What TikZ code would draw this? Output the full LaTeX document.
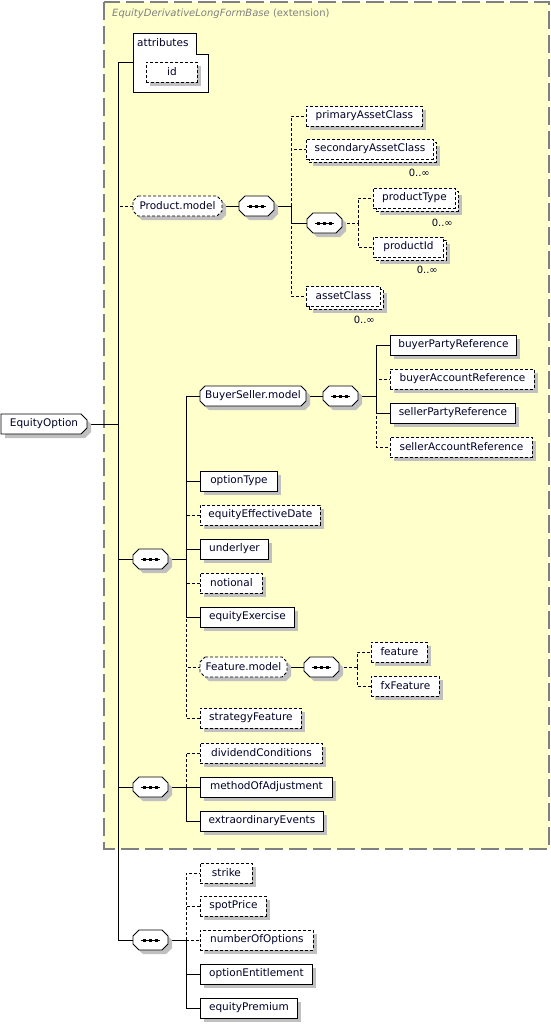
\documentclass[tikz,border=0pt]{standalone}
\usepackage{fontspec}
\setmainfont{DejaVu Sans}
\usetikzlibrary{calc,shadows}
\definecolor{extfill}{RGB}{255,255,204}
\definecolor{extline}{RGB}{128,128,128}
\definecolor{txt}{RGB}{0,0,40}
\definecolor{shadowgray}{RGB}{192,192,192}
\pgfdeclarelayer{bgzero}
\pgfdeclarelayer{bgone}
\pgfsetlayers{bgzero,bgone,main}
\tikzset{
  shd/.style={drop shadow={shadow xshift=4pt,shadow yshift=-4pt,fill=shadowgray,opacity=1}},
  lbl/.style={inner sep=0pt, text=txt, font=\fontsize{10.5}{12}\selectfont},
  elemns/.style={lbl, draw=black, line width=0.9pt, fill=white, minimum height=20pt, anchor=west},
  elem/.style={elemns, shd},
  optelemns/.style={elemns, dash pattern=on 3pt off 2pt},
  optelem/.style={elem, dash pattern=on 3pt off 2pt},
  conn/.style={line width=0.9pt},
  optconn/.style={conn, dash pattern=on 3pt off 2pt},
  card/.style={inner sep=0pt, anchor=east, text=txt, font=\fontsize{10}{12}\selectfont},
}
% group shape: name, x1, x2, yc, style, text
\newcommand{\grp}[6]{%
  \draw[#5, fill=white, shd] (#2+5,-#4+10) -- (#3-5,-#4+10) -- (#3,-#4+5) -- (#3,-#4-5) -- (#3-5,-#4-10) -- (#2+5,-#4-10) -- (#2,-#4-5) -- (#2,-#4+5) -- cycle;
  \node[lbl, minimum width={(#3-#2)*1pt}, minimum height=20pt] (#1) at ({(#2+#3)/2},-#4) {#6};}
% sequence symbol: name, x1, yc
\newcommand{\seqsym}[3]{%
  \draw[conn, fill=white, shd] (#2+6,-#3+10) -- (#2+29,-#3+10) -- (#2+35,-#3+4) -- (#2+35,-#3-4) -- (#2+29,-#3-10) -- (#2+6,-#3-10) -- (#2,-#3-4) -- (#2,-#3+4) -- cycle;
  \node[inner sep=0pt, minimum width=35pt, minimum height=20pt] (#1) at (#2+17.5,-#3) {};
  \draw[conn] (#2+8,-#3) -- (#2+27,-#3);
  \foreach \dx in {-6,0,6} {\fill (#2+16+\dx,-#3-1.5) rectangle ++(3,3);}}
% multiple optional element: name, x1, yc, width, text
\newcommand{\multi}[5]{%
  \node[optelem, minimum width=#4pt] (#1back) at (#2+3,-#3-3) {};
  \node[optelemns, minimum width=#4pt] (#1) at (#2,-#3) {#5};}

\begin{document}
\begin{tikzpicture}[x=1pt,y=1pt]
\useasboundingbox (0,0) rectangle (551,-1025);

\begin{pgfonlayer}{bgzero}
\fill[white] (0,0) rectangle (551,-1025);
\draw[extline, fill=extfill, line width=1.5pt, dash pattern=on 18pt off 6pt] (104,-2) rectangle (549,-849);
\end{pgfonlayer}
\node[anchor=west, inner sep=0pt, text=extline, font=\fontsize{10}{12}\selectfont] (title) at (112,-14) {\textit{EquityDerivativeLongFormBase} (extension)};

% root
\draw[conn, fill=white, shd] (1,-414) -- (81,-414) -- (87,-420) -- (87,-428) -- (81,-434) -- (1,-434) -- cycle;
\node[lbl, minimum width=86pt, minimum height=20pt] (eo) at (44,-424) {EquityOption};

% attributes
\draw[conn, fill=white] (133,-33) -- (196,-33) -- (196,-54) -- (208,-54) -- (208,-92) -- (133,-92) -- cycle;
\node[inner sep=0pt, minimum width=75pt, minimum height=59pt, anchor=north west] (attr) at (133,-33) {};
\node[lbl, anchor=west] (attrlbl) at (137,-43) {attributes};
\node[optelem, minimum width=51pt] (id) at (146,-72) {id};

% Product.model
\grp{pm}{133}{222}{206}{optconn}{Product.model}
\seqsym{sp}{239}{206}
\node[optelem, minimum width=116pt] (pac) at (306,-116) {primaryAssetClass};
\multi{sac}{306}{149}{127}{secondaryAssetClass}
\node[card] (sacc) at (430,-173) {0..∞};
\seqsym{sq}{307}{223}
\multi{pt}{373}{198}{82}{productType}
\node[card] (ptc) at (453,-223) {0..∞};
\multi{pid}{373}{247}{70}{productId}
\node[card] (pidc) at (438,-270) {0..∞};
\multi{ac}{306}{296}{74}{assetClass}
\node[card] (acc) at (375,-320) {0..∞};

% sequence 1
\seqsym{s1}{133}{559}
\grp{bs}{200}{306}{396}{conn}{BuyerSeller.model}
\seqsym{sb}{323}{396}
\node[elem, minimum width=126pt] (bpr) at (390,-345) {buyerPartyReference};
\node[optelem, minimum width=144pt] (bar) at (390,-379) {buyerAccountReference};
\node[elem, minimum width=125pt] (spr) at (390,-413) {sellerPartyReference};
\node[optelem, minimum width=142pt] (sar) at (390,-447) {sellerAccountReference};
\node[elem, minimum width=77pt] (ot) at (200,-481) {optionType};
\node[optelem, minimum width=120pt] (eed) at (200,-515) {equityEffectiveDate};
\node[elem, minimum width=68pt] (und) at (200,-549) {underlyer};
\node[optelem, minimum width=62pt] (not) at (200,-583) {notional};
\node[elem, minimum width=94pt] (eex) at (200,-617) {equityExercise};
\grp{fm}{200}{287}{667}{optconn}{Feature.model}
\seqsym{sf}{304}{667}
\node[optelem, minimum width=56pt] (feat) at (371,-652) {feature};
\node[optelem, minimum width=68pt] (fxf) at (371,-686) {fxFeature};
\node[optelem, minimum width=101pt] (sfe) at (200,-718) {strategyFeature};

% sequence 2
\seqsym{s2}{133}{787}
\node[optelem, minimum width=122pt] (dc) at (200,-753) {dividendConditions};
\node[elem, minimum width=132pt] (moa) at (200,-787) {methodOfAdjustment};
\node[elem, minimum width=123pt] (eev) at (200,-821) {extraordinaryEvents};

% sequence 3
\seqsym{s3}{133}{940}
\node[optelem, minimum width=52pt] (str) at (200,-873) {strike};
\node[optelem, minimum width=66pt] (spot) at (200,-906) {spotPrice};
\node[optelem, minimum width=113pt] (noo) at (200,-940) {numberOfOptions};
\node[elem, minimum width=112pt] (oen) at (200,-974) {optionEntitlement};
\node[elem, minimum width=97pt] (epr) at (200,-1008) {equityPremium};

% connectors
\begin{pgfonlayer}{bgone}
\coordinate (b0) at (118,-424);
\draw[conn] (eo.east) -- (b0);
\draw[optconn] (b0) |- (pm.west);
\draw[conn] (b0) |- (attr.west);
\draw[conn] (b0) |- (s1.west);
\draw[conn] (b0) |- (s2.west);
\draw[conn] (b0) |- (s3.west);

\coordinate (bp) at (291,-206);
\draw[conn] (pm.east) -- (sp.west);
\draw[conn] (sp.east) -- (bp);
\draw[optconn] (bp) |- (pac.west);
\draw[optconn] (bp) |- (sac.west);
\draw[optconn] (bp) |- (ac.west);
\draw[conn] (bp) |- (sq.west);
\coordinate (bq) at (358,-223);
\draw[optconn] (sq.east) -- (bq);
\draw[optconn] (bq) |- (pt.west);
\draw[optconn] (bq) |- (pid.west);

\coordinate (b1) at (186,-559);
\draw[conn] (s1.east) -- (b1);
\draw[optconn] (b1) |- (eed.west);
\draw[optconn] (b1) |- (not.west);
\draw[optconn] (b1) |- (fm.west);
\draw[optconn] (b1) |- (sfe.west);
\draw[conn] (b1) |- (bs.west);
\draw[conn] (b1) |- (ot.west);
\draw[conn] (b1) |- (und.west);
\draw[conn] (b1) |- (eex.west);

\coordinate (bb) at (376,-396);
\draw[conn] (bs.east) -- (sb.west);
\draw[conn] (sb.east) -- (bb);
\draw[optconn] (bb) |- (bar.west);
\draw[optconn] (bb) |- (sar.west);
\draw[conn] (bb) |- (bpr.west);
\draw[conn] (bb) |- (spr.west);

\coordinate (bf) at (357,-667);
\draw[conn] (fm.east) -- (sf.west);
\draw[optconn] (sf.east) -- (bf);
\draw[optconn] (bf) |- (feat.west);
\draw[optconn] (bf) |- (fxf.west);

\coordinate (b2) at (186,-787);
\draw[conn] (s2.east) -- (b2);
\draw[optconn] (b2) |- (dc.west);
\draw[conn] (b2) |- (moa.west);
\draw[conn] (b2) |- (eev.west);

\coordinate (b3) at (186,-940);
\draw[conn] (s3.east) -- (b3);
\draw[optconn] (b3) |- (str.west);
\draw[optconn] (b3) |- (spot.west);
\draw[optconn] (b3) |- (noo.west);
\draw[conn] (b3) |- (oen.west);
\draw[conn] (b3) |- (epr.west);
\end{pgfonlayer}
\end{tikzpicture}
\end{document}
